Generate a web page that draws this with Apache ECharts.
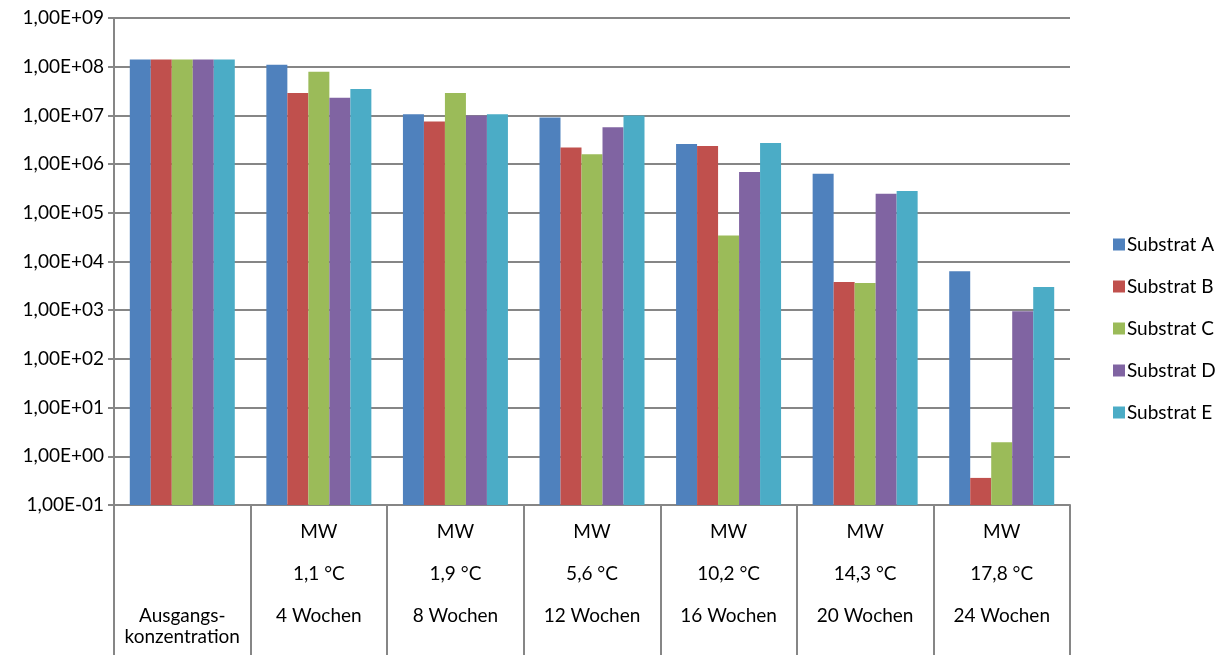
<!DOCTYPE html>
<html>
<head>
<meta charset="utf-8">
<script src="https://cdn.jsdelivr.net/npm/echarts@6/dist/echarts.min.js"></script>
<style>
  html, body { margin: 0; padding: 0; background: #fff; }
  #chart { width: 1221px; height: 655px; }
</style>
</head>
<body>
<div id="chart"></div>
<script>
// Category labels (sampling date, mean temperature, storage time)
const categories = [
  '\n\n\n\nAusgangs-\nkonzentration',
  'MW\n\n1,1 °C\n\n4 Wochen',
  'MW\n\n1,9 °C\n\n8 Wochen',
  'MW\n\n5,6 °C\n\n12 Wochen',
  'MW\n\n10,2 °C\n\n16 Wochen',
  'MW\n\n14,3 °C\n\n20 Wochen',
  'MW\n\n17,8 °C\n\n24 Wochen'
];

const seriesNames = ['Substrat A', 'Substrat B', 'Substrat C', 'Substrat D', 'Substrat E'];

// Concentrations per substrate
const substratA = [1.4e8, 1.1e8, 1.05e7, 9.1e6, 2.6e6, 6.3e5, 6.3e3];
const substratB = [1.4e8, 2.9e7, 7.5e6, 2.2e6, 2.35e6, 3.8e3, 0.36];
const substratC = [1.4e8, 7.9e7, 2.9e7, 1.6e6, 3.4e4, 3.6e3, 1.95];
const substratD = [1.4e8, 2.3e7, 1.0e7, 5.7e6, 6.9e5, 2.45e5, 950];
const substratE = [1.4e8, 3.5e7, 1.05e7, 1.0e7, 2.7e6, 2.8e5, 3.0e3];

const seriesValues = [substratA, substratB, substratC, substratD, substratE];
const colors = ['#4F81BD', '#C0504D', '#9BBB59', '#8064A2', '#4BACC6'];

// Y axis range (powers of ten)
const yMin = 0.1;
const yMax = 1e9;

function sciLabel(v) {
  const e = Math.round(Math.log10(v));
  const sign = e < 0 ? '-' : '+';
  const a = Math.abs(e);
  return '1,00E' + sign + (a < 10 ? '0' + a : a);
}

const chart = echarts.init(document.getElementById('chart'));
const fontFamily = 'Lato, "Open Sans", sans-serif';
const fontSize = 19;

chart.setOption({
  animation: false,
  textStyle: { fontFamily: fontFamily },
  grid: { left: 114, right: 151, top: 18, bottom: 150, containLabel: false },
  legend: {
    orient: 'vertical',
    left: 1108,
    top: 230,
    itemWidth: 12,
    itemHeight: 12,
    itemGap: 23,
    icon: 'rect',
    textStyle: { fontSize: fontSize, color: '#000', fontFamily: fontFamily, padding: [0, 0, 0, -3] },
    data: seriesNames
  },
  xAxis: {
    type: 'category',
    data: categories,
    axisLine: { lineStyle: { color: '#868686', width: 2 } },
    axisTick: { show: true, length: 150, inside: false, lineStyle: { color: '#868686', width: 2 } },
    axisLabel: {
      color: '#000',
      fontSize: fontSize,
      lineHeight: 21,
      margin: 16,
      interval: 0,
      align: 'center'
    }
  },
  yAxis: {
    type: 'log',
    logBase: 10,
    min: yMin,
    max: yMax,
    startValue: yMin,
    interval: 1,
    axisLine: { show: true, lineStyle: { color: '#868686', width: 2 } },
    axisTick: { show: true, length: 6, lineStyle: { color: '#868686', width: 2 } },
    axisLabel: {
      color: '#000',
      fontSize: fontSize,
      margin: 10,
      formatter: sciLabel
    },
    splitLine: { show: true, lineStyle: { color: '#868686', width: 2 } },
    minorTick: { show: false },
    minorSplitLine: { show: false }
  },
  series: seriesNames.map((name, i) => ({
    name: name,
    type: 'bar',
    data: seriesValues[i],
    barWidth: 21,
    barGap: '0%',
    itemStyle: { color: colors[i] }
  }))
});
</script>
</body>
</html>
